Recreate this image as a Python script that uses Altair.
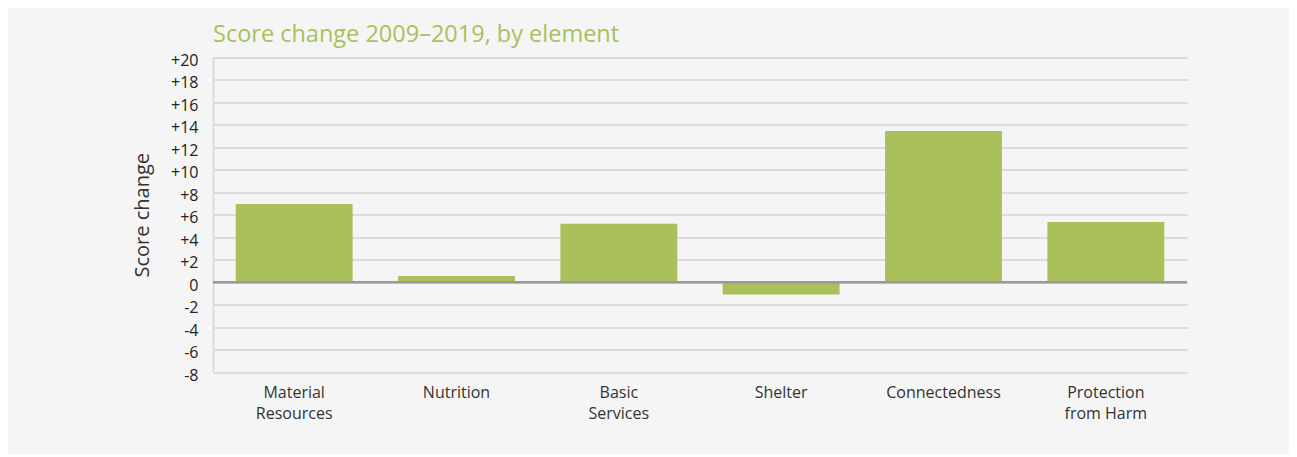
import altair as alt
import pandas as pd

categories = ["Material|Resources", "Nutrition", "Basic|Services", "Shelter", "Connectedness", "Protection|from Harm"]
values = [6.95, 0.55, 5.2, -1.1, 13.45, 5.35]
y_ticks = [-8, -6, -4, -2, 0, 2, 4, 6, 8, 10, 12, 14, 16, 18, 20]

df = pd.DataFrame({"element": categories, "change": values})
zero = pd.DataFrame({"change": [0]})

FONT = "Open Sans"
GREEN = "#a9c05b"

y_axis = alt.Axis(values=y_ticks,
                  labelExpr="datum.value > 0 ? '+' + datum.value : '' + datum.value",
                  labelFontSize=16, labelColor="#222222", labelFont=FONT,
                  labelPadding=15, labelOverlap=False, ticks=False, domain=True,
                  domainColor="#dcdcdc", domainWidth=2,
                  grid=True, gridColor="#dcdcdc", gridWidth=2,
                  titleFont=FONT, titleFontSize=20, titleFontWeight="normal",
                  titleColor="#333333", titlePadding=18, labelOffset=3)
y_scale = alt.Scale(domain=[-8, 20], nice=False)

bars = alt.Chart(df).mark_bar(color=GREEN).encode(
    x=alt.X("element:N", sort=categories, title=None,
            scale=alt.Scale(paddingInner=0.28, paddingOuter=0.14),
            axis=alt.Axis(labelExpr="split(datum.label, '|')", labelAngle=0,
                          labelFontSize=16, labelColor="#333333", labelFont=FONT,
                          labelLineHeight=21, labelPadding=12, ticks=False,
                          domain=False, labelBaseline="top")),
    y=alt.Y("change:Q", title="Score change", scale=y_scale, axis=y_axis),
)

zero_rule = alt.Chart(zero).mark_rule(color="#999999", strokeWidth=2.5).encode(
    y=alt.Y("change:Q", title="Score change", scale=y_scale, axis=y_axis)
)

chart = alt.layer(bars, zero_rule).properties(
    width=974,
    height=314.5,
    title=alt.TitleParams("Score change 2009\u20132019, by element", anchor="start",
                          frame="group",
                          font=FONT, fontSize=23.5, fontWeight="normal", color=GREEN,
                          offset=6),
    background="#f5f5f5",
    padding={"left": 205, "top": 49.5, "right": 102, "bottom": 82},
    autosize=alt.AutoSizeParams(type="none"),
).configure_view(stroke=None)

chart.save("out.html", embed_options={"renderer": "svg", "actions": False})
